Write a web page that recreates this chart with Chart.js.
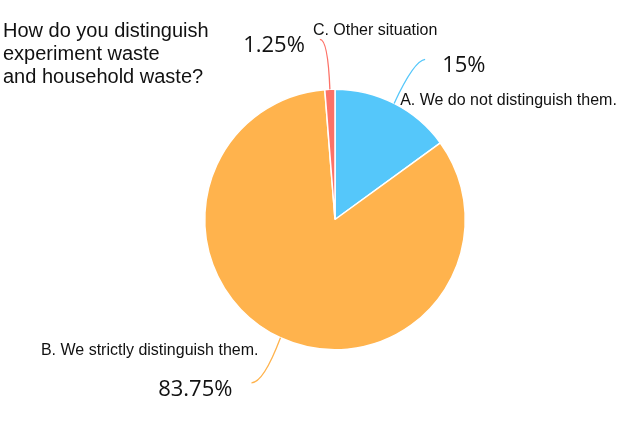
<!DOCTYPE html>
<html><head><meta charset="utf-8">
<script src="https://cdn.jsdelivr.net/npm/chart.js@4"></script>
<style>html,body{margin:0;padding:0;background:#fff;}#wrap{width:622px;height:433px;position:relative;}</style>
</head><body><div id="wrap"><canvas id="c"></canvas></div>
<script>
const titleLines = ["How do you distinguish", "experiment waste", "and household waste?"];
const categories = ["A. We do not distinguish them.", "B. We strictly distinguish them.", "C. Other situation"];
const values = [15, 83.75, 1.25];
const percentLabels = ["15%", "83.75%", "1.25%"];
const colors = ["#55C7FA", "#FFB34D", "#FD7268"];

// leader geometry (relative to arc mid point): control, end; pct offset from end; cat offset from start
const leaders = [
  {c:[20,-43], e:[31,-44], pct:[17,6,'left'], cat:[6,-3,'left']},
  {c:[-17,45], e:[-29,45], pct:[-19,7,'right'], cat:[-22,13,'right']},
  {c:[-2,-50], e:[-10,-50], pct:[-15,6,'right'], cat:[-17,-59,'left']}
];

const labelPlugin = {
  id:'labels',
  afterDraw(chart){
    const ctx = chart.ctx;
    ctx.save();
    ctx.fillStyle = '#111';
    ctx.font = '20px "Liberation Sans", Arial, sans-serif';
    ctx.textBaseline = 'middle';
    ctx.textAlign = 'left';
    titleLines.forEach((t,i)=>ctx.fillText(t, 3, 31 + i*23.3));
    const meta = chart.getDatasetMeta(0);
    meta.data.forEach((arc,i)=>{
      const {x,y,startAngle,endAngle,outerRadius} = arc.getProps(['x','y','startAngle','endAngle','outerRadius'], true);
      const mid = (startAngle+endAngle)/2;
      const sx = x + Math.cos(mid)*outerRadius, sy = y + Math.sin(mid)*outerRadius;
      const L = leaders[i];
      const ex = sx+L.e[0], ey = sy+L.e[1];
      ctx.strokeStyle = colors[i];
      ctx.lineWidth = 1.3;
      ctx.beginPath();
      ctx.moveTo(sx, sy);
      ctx.quadraticCurveTo(sx+L.c[0], sy+L.c[1], ex, ey);
      ctx.stroke();
      ctx.fillStyle = '#111';
      ctx.font = '22px "Open Sans", sans-serif';
      ctx.textAlign = L.pct[2];
      ctx.fillText(percentLabels[i], ex+L.pct[0], ey+L.pct[1]);
      ctx.font = '16px "Liberation Sans", Arial, sans-serif';
      ctx.textAlign = L.cat[2];
      ctx.fillText(categories[i], sx+L.cat[0], sy+L.cat[1]);
    });
    ctx.restore();
  }
};

new Chart(document.getElementById('c'), {
  type:'pie',
  data:{labels:categories, datasets:[{data:values, backgroundColor:colors, borderColor:'#fff', borderWidth:1.5}]},
  options:{
    responsive:true, maintainAspectRatio:false, animation:false,
    layout:{padding:{left:204, right:156, top:88, bottom:82}},
    plugins:{legend:{display:false}, tooltip:{enabled:false}}
  },
  plugins:[labelPlugin]
});
</script></body></html>
